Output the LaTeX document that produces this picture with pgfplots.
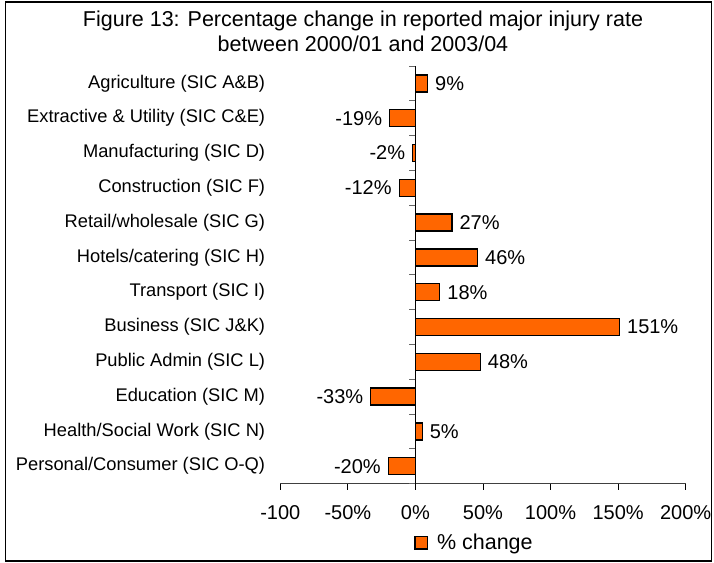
\documentclass[border=0pt]{standalone}
\usepackage{pgfplots}
\pgfplotsset{compat=1.18}
\usepackage{fontspec}
\setmainfont{Liberation Sans}
\definecolor{barorange}{RGB}{255,102,0}
\begin{document}
\begin{tikzpicture}
\path[use as bounding box] (0bp,0bp) rectangle (714bp,-563bp);
\draw[line width=1.3bp] (5.5bp,-2bp) rectangle (711.5bp,-561bp);
\node[anchor=base, inner sep=0pt, font=\fontsize{21.5bp}{26bp}\selectfont] at (363bp,-26bp) {Figure 13: Percentage change in reported major injury rate};
\node[anchor=base, inner sep=0pt, font=\fontsize{21.5bp}{26bp}\selectfont] at (363bp,-51bp) {between 2000/01 and 2003/04};
\begin{axis}[
  at={(280.3bp,-483.6bp)}, anchor=south west,
  scale only axis, width=405.4bp, height=417.6bp,
  xmin=-100, xmax=200, ymin=-0.5, ymax=11.5, y dir=reverse,
  axis x line*=bottom, axis y line*=left,
  y axis line style={draw=none},
  x axis line style={black!75, line width=0.9bp},
  xtick={-100,-50,...,200},
  xticklabels={-100,-50\%,0\%,50\%,100\%,150\%,200\%},
  ytick={0,...,11},
  yticklabels={Agriculture (SIC A\&B),Extractive \& Utility (SIC C\&E),Manufacturing (SIC D),Construction (SIC F),Retail/wholesale (SIC G),Hotels/catering (SIC H),Transport (SIC I),Business (SIC J\&K),Public Admin (SIC L),Education (SIC M),Health/Social Work (SIC N),Personal/Consumer (SIC O-Q)},
  tick align=outside, major tick length=6bp,
  y tick style={draw=none},
  x tick style={black, line width=0.9bp},
  xticklabel style={font=\fontsize{20bp}{24bp}\selectfont, inner sep=0pt, anchor=north, yshift=-16bp},
  yticklabel style={font=\fontsize{18.3bp}{22bp}\selectfont, inner sep=0pt, xshift=-9bp},
  /pgf/number format/assume math mode=true,
  xbar, bar width=17bp,
  nodes near coords={\pgfmathprintnumber{\pgfplotspointmeta}\%},
  nodes near coords style={font=\fontsize{20bp}{24bp}\selectfont, inner xsep=7bp, inner ysep=0pt, text=black},
  legend style={draw=none, fill=none, at={(0.4766,-0.1415)}, anchor=center, inner sep=0pt,
    font=\fontsize{21.5bp}{24bp}\selectfont, nodes={inner sep=0pt},
    /tikz/every odd column/.append style={column sep=9bp}},
  clip=false,
]
\addplot[fill=barorange, draw=black, line width=1.3bp,
  legend image code/.code={\draw[fill=barorange, draw=black, line width=1.3bp] (0bp,-6.2bp) rectangle (12.4bp,6.2bp);}]
  coordinates {(9,0) (-19,1) (-2,2) (-12,3) (27,4) (46,5) (18,6) (151,7) (48,8) (-33,9) (5,10) (-20,11)};
\addlegendentry{\% change}
\draw[black, line width=0.9bp] (axis cs:0,-0.5) -- (axis cs:0,11.5);
\pgfplotsinvokeforeach{-0.5,0.5,...,11.5}{\draw[black!60, line width=0.9bp] (axis cs:0,#1) -- ++(-6bp,0bp);}
\end{axis}
\end{tikzpicture}
\end{document}
